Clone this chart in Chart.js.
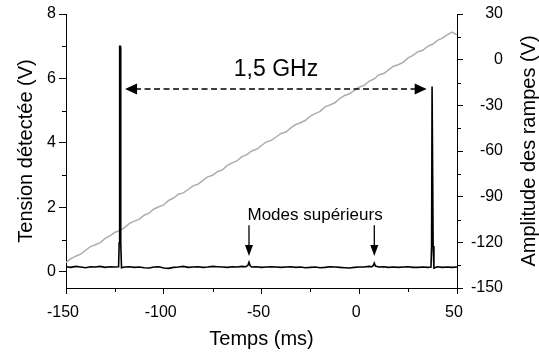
<!DOCTYPE html>
<html lang="fr">
<head>
<meta charset="utf-8">
<title>Tension détectée et rampes</title>
<script src="https://cdn.jsdelivr.net/npm/chart.js@4.4.1/dist/chart.umd.min.js"></script>
<style>
  html, body { margin: 0; padding: 0; background: #fff; }
  #wrap { width: 539px; height: 356px; }
</style>
</head>
<body>
<div id="wrap"><canvas id="spectre"></canvas></div>
<script>
// graduations
const tempsTicks = [-150, -100, -50, 0, 50];
const tempsMinor = [-125, -75, -25, 25];
const tensionTicks = [0, 2, 4, 6, 8];
const tensionMinor = [1, 3, 5, 7];
const rampeTicks = [-150, -120, -90, -60, -30, 0, 30];
const rampeMinor = [-135, -105, -75, -45, -15, 15];

// signal détecté (V), trace noire
const signalTemps = [
  -150, -147.5, -145, -142.5, -140, -137.5, -135, -132.5, -130, -127.5, -125,
  -123.1, -122.8, -122.55, -122.25, -122.0, -121.6,
  -120, -117.5, -115, -112.5, -110, -107.5, -105, -102.5, -100, -97.5, -95, -92.5,
  -90, -87.5, -85, -82.5, -80, -77.5, -75, -72.5, -70, -67.5, -65, -62.5, -60,
  -58, -57, -56.4, -55.8,
  -55, -52.5, -50, -47.5, -45, -42.5, -40, -37.5, -35, -32.5, -30, -27.5, -25,
  -22.5, -20, -17.5, -15, -12.5, -10, -7.5, -5, -2.5, 0, 2.5, 5,
  6.5, 7.2, 7.7, 8.3,
  10, 12.5, 15, 17.5, 20, 22.5, 25, 27.5, 30, 32.5, 35,
  36.7, 37.0, 37.25, 37.55, 37.8, 38.2,
  40, 42.5, 45, 47.5, 50
];
const signalTension = [
  0.16, 0.14, 0.17, 0.15, 0.13, 0.16, 0.15, 0.17, 0.14, 0.16, 0.15,
  0.16, 0.9, 7.0, 7.0, 0.9, 0.13,
  0.15, 0.16, 0.14, 0.15, 0.13, 0.12, 0.15, 0.16, 0.12, 0.11, 0.14, 0.15,
  0.17, 0.14, 0.15, 0.16, 0.14, 0.15, 0.17, 0.16, 0.15, 0.14, 0.16, 0.15, 0.17,
  0.16, 0.2, 0.3, 0.19,
  0.15, 0.16, 0.14, 0.15, 0.16, 0.15, 0.14, 0.15, 0.16, 0.14, 0.15, 0.13, 0.14,
  0.15, 0.13, 0.14, 0.16, 0.15, 0.14, 0.13, 0.12, 0.14, 0.15, 0.15, 0.17,
  0.16, 0.2, 0.27, 0.18,
  0.15, 0.16, 0.14, 0.15, 0.14, 0.15, 0.16, 0.14, 0.14, 0.15, 0.14,
  0.15, 0.8, 5.75, 5.75, 0.8, 0.12,
  0.16, 0.14, 0.15, 0.14, 0.15
];

// amplitude des rampes (V), trace grise
const rampeTemps = [
  -150, -147.5, -145, -142.5, -140, -137.5, -135, -132.5, -130, -127.5,
  -125, -122.5, -120, -117.5, -115, -112.5, -110, -107.5, -105, -102.5,
  -100, -97.5, -95, -92.5, -90, -87.5, -85, -82.5, -80, -77.5,
  -75, -72.5, -70, -67.5, -65, -62.5, -60, -57.5, -55, -52.5,
  -50, -47.5, -45, -42.5, -40, -37.5, -35, -32.5, -30, -27.5,
  -25, -22.5, -20, -17.5, -15, -12.5, -10, -7.5, -5, -2.5,
  0, 2.5, 5, 7.5, 10, 12.5, 15, 17.5, 20, 22.5,
  25, 27.5, 30, 32.5, 35, 37.5, 40, 42.5, 45, 47.5, 50
];
const rampeTension = [
  -133.3, -130.7, -129.1, -127.8, -125.2, -122.8, -121.6, -120.2, -117.4, -115.8,
  -113.4, -112.4, -110.2, -107.5, -106.1, -104.8, -102.2, -100.8, -98.1, -96.6,
  -95.4, -92.5, -90.9, -88.4, -87.5, -85.3, -82.9, -81.9, -79.3, -77.0,
  -75.9, -73.6, -72.4, -69.5, -67.8, -66.5, -63.7, -62.4, -60.0, -58.9,
  -56.4, -54.0, -53.0, -50.8, -48.5, -47.5, -44.8, -42.6, -41.4, -39.8,
  -37.1, -35.4, -34.0, -31.0, -29.8, -28.3, -25.6, -23.5, -22.4, -20.2,
  -17.9, -16.9, -14.2, -12.7, -10.1, -9.1, -6.7, -4.3, -3.3, -1.6,
  1.2, 2.8, 5.2, 6.2, 8.7, 10.1, 12.7, 14.1, 16.3, 18.1, 16.3
];

const FONT = "'Liberation Sans', Arial, sans-serif";
Chart.defaults.font.family = FONT;
Chart.defaults.color = '#000';

function pointe(ctx, tx, ty, dx, dy, len, half) {
  const bx = tx - dx * len, by = ty - dy * len;
  ctx.beginPath();
  ctx.moveTo(tx, ty);
  ctx.lineTo(bx - dy * half, by + dx * half);
  ctx.lineTo(bx + dy * half, by - dx * half);
  ctx.closePath();
  ctx.fill();
}

// flèches, textes, petites graduations et titre de droite
const annotations = {
  id: 'annotations',
  afterDraw(chart) {
    const {ctx, chartArea: area, scales: {x, y, y2}} = chart;
    ctx.save();
    ctx.fillStyle = '#000';
    ctx.strokeStyle = '#000';

    // petites graduations
    ctx.lineWidth = 1;
    ctx.beginPath();
    tensionMinor.forEach(v => {
      const p = Math.round(y.getPixelForValue(v)) + 0.5;
      ctx.moveTo(area.left, p); ctx.lineTo(area.left - 4, p);
    });
    rampeMinor.forEach(v => {
      const p = Math.round(y2.getPixelForValue(v)) + 0.5;
      ctx.moveTo(area.right, p); ctx.lineTo(area.right + 4, p);
    });
    tempsMinor.forEach(v => {
      const p = Math.round(x.getPixelForValue(v)) + 0.5;
      ctx.moveTo(p, area.bottom); ctx.lineTo(p, area.bottom + 4);
    });
    ctx.stroke();

    // écart entre les deux pics
    const ay = y.getPixelForValue(5.67);
    const a1 = x.getPixelForValue(-119.8), a2 = x.getPixelForValue(34.5);
    ctx.lineWidth = 1.5;
    ctx.setLineDash([6, 3.5]);
    ctx.beginPath();
    ctx.moveTo(a1 + 10, ay); ctx.lineTo(a2 - 10, ay);
    ctx.stroke();
    ctx.setLineDash([]);
    pointe(ctx, a1, ay, -1, 0, 12, 5.5);
    pointe(ctx, a2, ay, 1, 0, 12, 5.5);

    ctx.font = '23px ' + FONT;
    ctx.textAlign = 'center';
    ctx.textBaseline = 'alphabetic';
    ctx.fillText('1,5 GHz', x.getPixelForValue(-42.6), y.getPixelForValue(6.08));

    // modes supérieurs
    ctx.font = '17px ' + FONT;
    ctx.fillText('Modes supérieurs', x.getPixelForValue(-22.6), y.getPixelForValue(1.6));
    ctx.lineWidth = 1.3;
    [-56.4, 7.7].forEach(t => {
      const px = x.getPixelForValue(t);
      const top = y.getPixelForValue(1.45), tip = y.getPixelForValue(0.49);
      ctx.beginPath();
      ctx.moveTo(px, top); ctx.lineTo(px, tip - 8);
      ctx.stroke();
      pointe(ctx, px, tip, 0, 1, 11, 4);
    });

    // titre de l'axe de droite
    ctx.font = '20px ' + FONT;
    ctx.textBaseline = 'middle';
    ctx.translate(529, (area.top + area.bottom) / 2);
    ctx.rotate(-Math.PI / 2);
    ctx.fillText('Amplitude des rampes (V)', 0, 0);
    ctx.restore();
  }
};

new Chart(document.getElementById('spectre'), {
  type: 'line',
  data: {
    datasets: [
      {
        label: 'Tension détectée',
        data: signalTemps.map((t, i) => ({x: t, y: signalTension[i]})),
        yAxisID: 'y',
        borderColor: '#000',
        borderWidth: 1.6,
        pointRadius: 0,
        tension: 0,
      },
      {
        label: 'Amplitude des rampes',
        data: rampeTemps.map((t, i) => ({x: t, y: rampeTension[i]})),
        yAxisID: 'y2',
        borderColor: '#adadad',
        borderWidth: 1.5,
        pointRadius: 0,
        tension: 0,
      },
    ],
  },
  options: {
    responsive: true,
    maintainAspectRatio: false,
    animation: false,
    layout: {padding: {top: 14, right: 36, left: 0, bottom: 0}},
    plugins: {legend: {display: false}, tooltip: {enabled: false}},
    scales: {
      x: {
        type: 'linear',
        min: -150, max: 50,
        afterBuildTicks: s => { s.ticks = tempsTicks.map(v => ({value: v})); },
        afterFit: s => { s.height = 68; },
        grid: {drawOnChartArea: false, tickLength: 6, color: '#000'},
        border: {color: '#000', width: 1},
        ticks: {font: {size: 16}, padding: 9, labelOffset: -3, maxRotation: 0},
        title: {display: true, text: 'Temps (ms)', font: {size: 20}, padding: {top: 0, bottom: 5}},
      },
      y: {
        position: 'left',
        min: -0.5, max: 8,
        afterBuildTicks: s => { s.ticks = tensionTicks.map(v => ({value: v})); },
        afterFit: s => { s.width = 66; },
        grid: {drawOnChartArea: false, tickLength: 7, color: '#000'},
        border: {color: '#000', width: 1},
        ticks: {font: {size: 16}, padding: 3},
        title: {display: true, text: 'Tension détectée (V)', font: {size: 20}, padding: {top: 14, bottom: 0}},
      },
      y2: {
        position: 'right',
        min: -150, max: 30,
        afterBuildTicks: s => { s.ticks = rampeTicks.map(v => ({value: v})); },
        afterFit: s => { s.width = 46; },
        grid: {drawOnChartArea: false, tickLength: 6, color: '#000'},
        border: {color: '#000', width: 1},
        ticks: {font: {size: 16}, crossAlign: 'far'},
      },
    },
  },
  plugins: [annotations],
});
</script>
</body>
</html>
